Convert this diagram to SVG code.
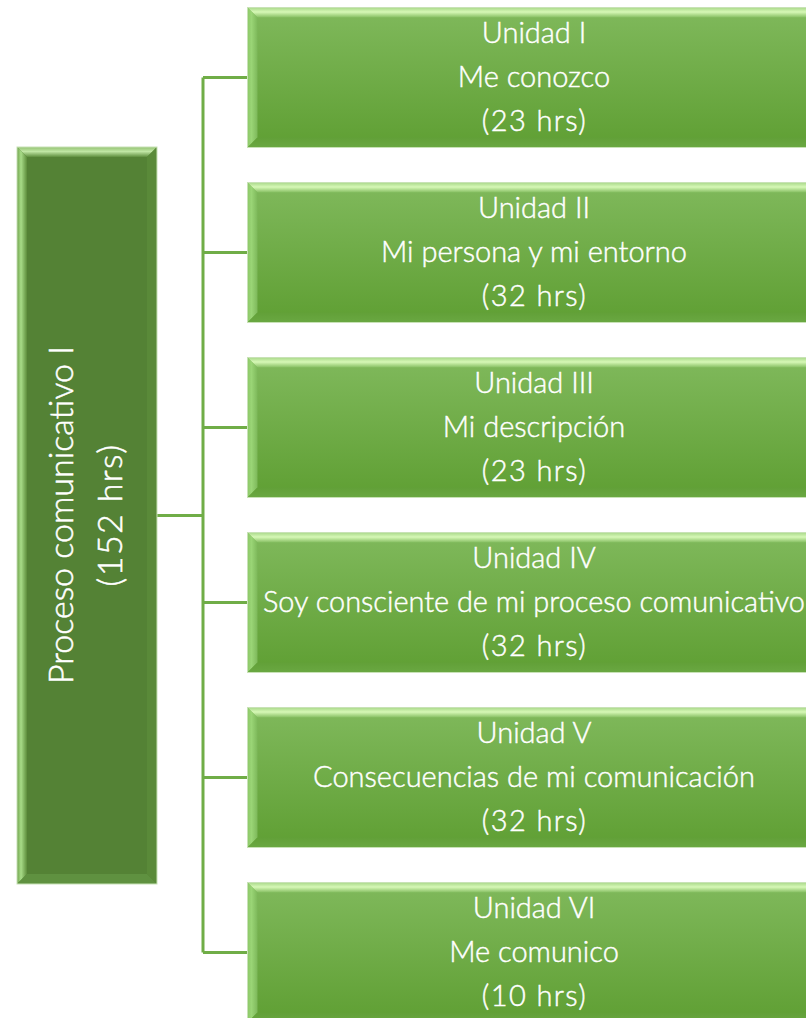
<svg xmlns="http://www.w3.org/2000/svg" width="806" height="1018" viewBox="0 0 806 1018">
<defs>
<linearGradient id="faceR" x1="0" y1="0" x2="0" y2="1"><stop offset="0" stop-color="#80b95c"/><stop offset="1" stop-color="#5f9f33"/></linearGradient>
<linearGradient id="topR" x1="0" y1="0" x2="0" y2="1"><stop offset="0" stop-color="#a9d88a"/><stop offset="0.45" stop-color="#d6f8b6"/><stop offset="1" stop-color="#86bf62"/></linearGradient>
<linearGradient id="leftR" x1="0" y1="0" x2="1" y2="0"><stop offset="0" stop-color="#8cc868"/><stop offset="0.4" stop-color="#9ad576"/><stop offset="1" stop-color="#7db85a"/></linearGradient>
<linearGradient id="botR" x1="0" y1="0" x2="0" y2="1"><stop offset="0" stop-color="#62a038"/><stop offset="1" stop-color="#6aa842"/></linearGradient>
<linearGradient id="topL" x1="0" y1="0" x2="0" y2="1"><stop offset="0" stop-color="#93c272"/><stop offset="0.45" stop-color="#c0e6a4"/><stop offset="1" stop-color="#5f8f3e"/></linearGradient>
<linearGradient id="leftL" x1="0" y1="0" x2="1" y2="0"><stop offset="0" stop-color="#6fa24c"/><stop offset="0.4" stop-color="#a8dc88"/><stop offset="1" stop-color="#5d8d3b"/></linearGradient>
<style>
.face{fill:url(#faceR)}
.bt{fill:url(#topR)}
.bl{fill:url(#leftR)}
.bb{fill:url(#botR)}
.edge{fill:none;stroke:#c8e2b6;stroke-width:1}
.lbl{font-family:Lato,"Open Sans",sans-serif;font-weight:300;font-size:29px;fill:#ffffff;stroke:#ffffff;stroke-width:0.45px;text-anchor:middle}
.hrs{letter-spacing:1.4px}
.big{font-family:Lato,"Open Sans",sans-serif;font-weight:300;font-size:34px;fill:#ffffff;stroke:#ffffff;stroke-width:0.5px;text-anchor:middle}
.conn{fill:none;stroke:#70ad47;stroke-width:3}
</style>
</defs>
<rect width="806" height="1018" fill="#ffffff"/>
<g id="connectors">
<path class="conn" d="M157 515.5H203M203 77.5V952.5M203 77.5H247.5M203 252.5H247.5M203 427.5H247.5M203 602.5H247.5M203 777.5H247.5M203 952.5H247.5"/>
</g>
<g id="root">
<rect x="17" y="147" width="140" height="737" fill="#548235"/>
<polygon points="17,147 157,147 147,157 27,157" fill="url(#topL)"/>
<polygon points="17,147 27,157 27,874 17,884" fill="url(#leftL)"/>
<polygon points="17,884 27,874 147,874 157,884" fill="#5f9140"/>
<polygon points="157,147 157,884 147,874 147,157" fill="#5a8a39"/>
<rect x="17" y="147" width="140" height="737" class="edge"/>
<text class="big" transform="translate(73,515) rotate(-90)">Proceso comunicativo I</text>
<text class="big hrs" transform="translate(122,515) rotate(-90)">(152 hrs)</text>
</g>
<g id="u1" transform="translate(247.5,7.5)">
<rect class="face" width="575" height="140"/>
<polygon class="bt" points="0,0 575,0 565,10 10,10"/>
<polygon class="bl" points="0,0 10,10 10,130 0,140"/>
<polygon class="bb" points="0,140 10,130 565,130 575,140"/>
<rect class="edge" width="575" height="140"/>
<text class="lbl" x="286.5" y="35.5">Unidad I</text>
<text class="lbl" x="286.5" y="79.5">Me conozco</text>
<text class="lbl hrs" x="287" y="123">(23 hrs)</text>
</g>
<g id="u2" transform="translate(247.5,182.5)">
<rect class="face" width="575" height="140"/>
<polygon class="bt" points="0,0 575,0 565,10 10,10"/>
<polygon class="bl" points="0,0 10,10 10,130 0,140"/>
<polygon class="bb" points="0,140 10,130 565,130 575,140"/>
<rect class="edge" width="575" height="140"/>
<text class="lbl" x="286.5" y="35.5">Unidad II</text>
<text class="lbl" x="286.5" y="79.5">Mi persona y mi entorno</text>
<text class="lbl hrs" x="287" y="123">(32 hrs)</text>
</g>
<g id="u3" transform="translate(247.5,357.5)">
<rect class="face" width="575" height="140"/>
<polygon class="bt" points="0,0 575,0 565,10 10,10"/>
<polygon class="bl" points="0,0 10,10 10,130 0,140"/>
<polygon class="bb" points="0,140 10,130 565,130 575,140"/>
<rect class="edge" width="575" height="140"/>
<text class="lbl" x="286.5" y="35.5">Unidad III</text>
<text class="lbl" x="286.5" y="79.5">Mi descripción</text>
<text class="lbl hrs" x="287" y="123">(23 hrs)</text>
</g>
<g id="u4" transform="translate(247.5,532.5)">
<rect class="face" width="575" height="140"/>
<polygon class="bt" points="0,0 575,0 565,10 10,10"/>
<polygon class="bl" points="0,0 10,10 10,130 0,140"/>
<polygon class="bb" points="0,140 10,130 565,130 575,140"/>
<rect class="edge" width="575" height="140"/>
<text class="lbl" x="286.5" y="35.5">Unidad IV</text>
<text class="lbl" x="286.5" y="79.5" textLength="542" lengthAdjust="spacingAndGlyphs">Soy consciente de mi proceso comunicativo</text>
<text class="lbl hrs" x="287" y="123">(32 hrs)</text>
</g>
<g id="u5" transform="translate(247.5,707.5)">
<rect class="face" width="575" height="140"/>
<polygon class="bt" points="0,0 575,0 565,10 10,10"/>
<polygon class="bl" points="0,0 10,10 10,130 0,140"/>
<polygon class="bb" points="0,140 10,130 565,130 575,140"/>
<rect class="edge" width="575" height="140"/>
<text class="lbl" x="286.5" y="35.5">Unidad V</text>
<text class="lbl" x="286.5" y="79.5">Consecuencias de mi comunicación</text>
<text class="lbl hrs" x="287" y="123">(32 hrs)</text>
</g>
<g id="u6" transform="translate(247.5,882.5)">
<rect class="face" width="575" height="140"/>
<polygon class="bt" points="0,0 575,0 565,10 10,10"/>
<polygon class="bl" points="0,0 10,10 10,130 0,140"/>
<polygon class="bb" points="0,140 10,130 565,130 575,140"/>
<rect class="edge" width="575" height="140"/>
<text class="lbl" x="286.5" y="35.5">Unidad VI</text>
<text class="lbl" x="286.5" y="79.5">Me comunico</text>
<text class="lbl hrs" x="287" y="123">(10 hrs)</text>
</g>
</svg>
